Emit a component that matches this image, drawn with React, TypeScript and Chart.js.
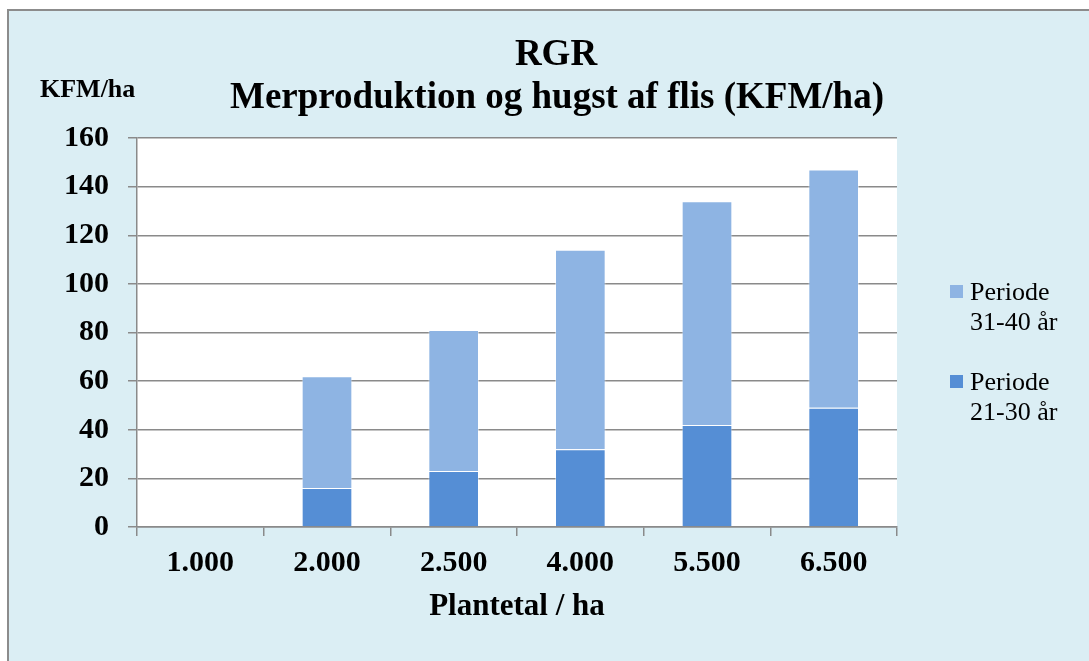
import React, { useEffect, useRef } from 'react';
import { Chart, registerables } from 'chart.js';

Chart.register(...registerables);

const categories = ['1.000', '2.000', '2.500', '4.000', '5.500', '6.500'];
const period2130 = [0, 16, 23, 32, 42, 49];
const period3140 = [0, 46, 58, 82, 92, 98];
const yMin = 0;
const yMax = 160;
const yStep = 20;
const titleLines = ['RGR', 'Merproduktion og hugst af flis (KFM/ha)'];
const yUnitLabel = 'KFM/ha';
const xAxisTitle = 'Plantetal / ha';
const label2130 = ['Periode', '21-30 år'];
const label3140 = ['Periode', '31-40 år'];

const FONT = '"Liberation Serif", "Times New Roman", Times, serif';
const DARK = '#558ED5';
const LIGHT = '#8EB4E3';
const GRID = '#8a8a8a';

const decorPlugin = {
  id: 'decor',
  beforeDraw(chart: any) {
    const { ctx, chartArea: a } = chart;
    ctx.save();
    ctx.fillStyle = '#ffffff';
    ctx.fillRect(a.left, a.top, a.right - a.left, a.bottom - a.top);
    ctx.restore();
  },
  afterDraw(chart: any) {
    const { ctx } = chart;
    ctx.save();
    ctx.fillStyle = '#000';
    // Title
    ctx.font = `bold 37px ${FONT}`;
    ctx.textAlign = 'center';
    ctx.textBaseline = 'alphabetic';
    ctx.fillText(titleLines[0], 547, 54);
    ctx.fillText(titleLines[1], 548, 97);
    // Y unit
    ctx.font = `bold 26px ${FONT}`;
    ctx.textAlign = 'left';
    ctx.fillText(yUnitLabel, 31, 86);
    // Legend
    const items = [
      { color: LIGHT, lines: label3140, y: 274 },
      { color: DARK, lines: label2130, y: 364 },
    ];
    ctx.font = `26px ${FONT}`;
    for (const it of items) {
      ctx.fillStyle = it.color;
      ctx.fillRect(941, it.y, 13, 13);
      ctx.fillStyle = '#000';
      ctx.fillText(it.lines[0], 961, it.y + 14.5);
      ctx.fillText(it.lines[1], 961, it.y + 45);
    }
    ctx.restore();
  },
};

export default function App() {
  const ref = useRef<HTMLCanvasElement | null>(null);

  useEffect(() => {
    if (!ref.current) return;
    Chart.defaults.font.family = FONT;
    const chart = new Chart(ref.current, {
      type: 'bar',
      data: {
        labels: categories,
        datasets: [
          {
            label: label2130.join(' '),
            data: period2130,
            backgroundColor: DARK,
            borderColor: 'rgba(255,255,255,0.45)',
            borderWidth: 1,
            barPercentage: 0.4,
            categoryPercentage: 1,
          },
          {
            label: label3140.join(' '),
            data: period3140,
            backgroundColor: LIGHT,
            borderColor: 'rgba(255,255,255,0.45)',
            borderWidth: 1,
            barPercentage: 0.4,
            categoryPercentage: 1,
          },
        ],
      },
      options: {
        responsive: false,
        animation: false,
        layout: { padding: { left: 0, right: 192, top: 127, bottom: 0 } },
        plugins: {
          legend: { display: false },
          title: { display: false },
          tooltip: { enabled: false },
        },
        scales: {
          x: {
            stacked: true,
            afterFit: (s: any) => {
              s.height = 134;
            },
            grid: {
              display: true,
              drawOnChartArea: false,
              drawTicks: true,
              tickLength: 9,
              color: GRID,
              lineWidth: 1.5,
              offset: true,
            },
            border: { display: true, color: GRID, width: 1.5 },
            ticks: {
              color: '#000',
              padding: 9,
              font: { size: 30, weight: 'bold', family: FONT },
              maxRotation: 0,
            },
            title: {
              display: true,
              text: xAxisTitle,
              color: '#000',
              font: { size: 31, weight: 'bold', family: FONT },
              padding: { top: 0, bottom: 35 },
            },
          },
          y: {
            stacked: true,
            min: yMin,
            max: yMax,
            afterFit: (s: any) => {
              s.width = 128;
            },
            grid: {
              color: GRID,
              lineWidth: 1.5,
              drawTicks: true,
              tickLength: 9,
            },
            border: { display: true, color: GRID, width: 1.5 },
            ticks: {
              stepSize: yStep,
              color: '#000',
              padding: 19,
              font: { size: 30, weight: 'bold', family: FONT },
            },
          },
        },
      },
      plugins: [decorPlugin],
    } as any);
    return () => chart.destroy();
  }, []);

  return (
    <div
      style={{
        position: 'fixed',
        left: 7,
        top: 9,
        width: 1080,
        height: 650,
        borderLeft: '2px solid #8c8c8c',
        borderTop: '2px solid #8c8c8c',
        background: '#DBEEF4',
      }}
    >
      <canvas ref={ref} width={1080} height={650} style={{ display: 'block', width: 1080, height: 650 }} />
    </div>
  );
}
